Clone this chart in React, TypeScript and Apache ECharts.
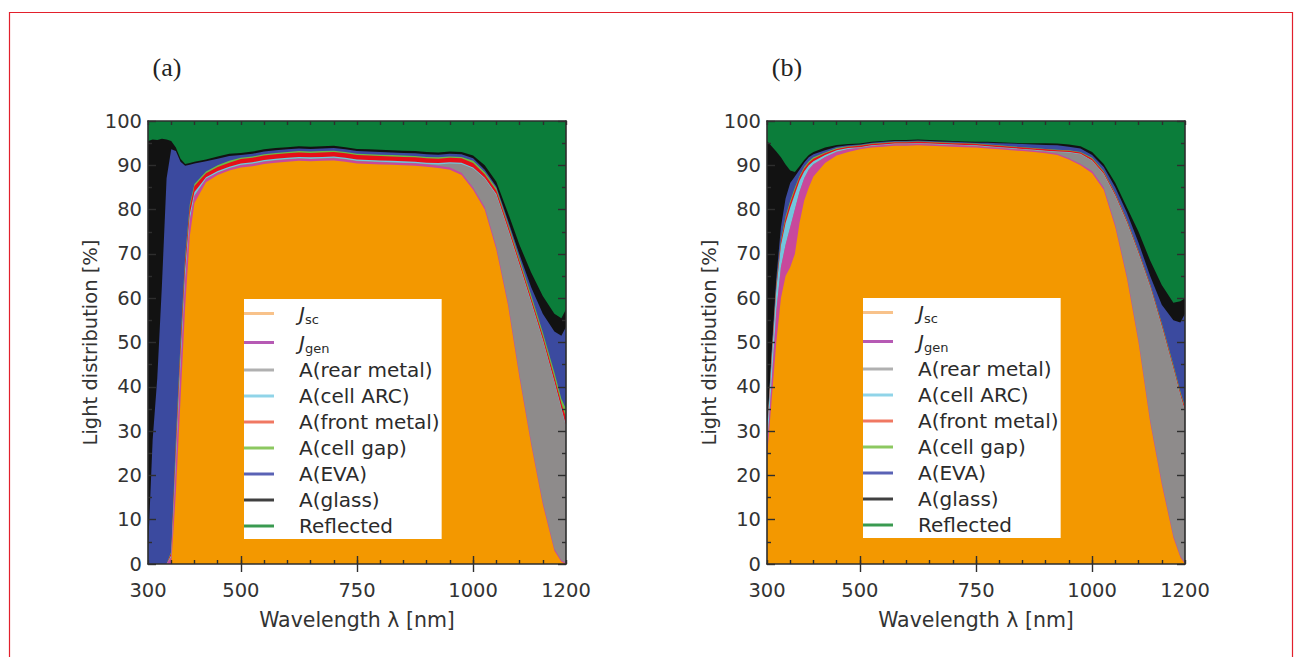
import React, { useEffect, useRef } from 'react';
import * as echarts from 'echarts';

// Wavelength grid [nm]
const wavelength = [300, 310, 320, 330, 340, 350, 360, 370, 380, 390, 400, 425, 450, 475, 500, 525, 550, 575, 600, 625, 650, 675, 700, 725, 750, 775, 800, 825, 850, 875, 900, 925, 950, 975, 1000, 1025, 1050, 1075, 1100, 1125, 1150, 1175, 1190, 1200];

// Panel (a): cumulative upper boundary of each band [%]
const aJscTop = [0, 0, 0, 0, 0, 0, 16, 37, 58, 74, 81.5, 86.2, 87.8, 88.8, 89.5, 89.8, 90.3, 90.6, 90.8, 91, 90.9, 91, 91.1, 90.8, 90.4, 90.3, 90.2, 90.1, 90, 89.9, 89.7, 89.4, 89, 87.8, 84.5, 80, 71, 58.5, 42, 27, 13.5, 3, 0.5, 0];
const aJgenTop = [0, 0, 0, 0, 0, 1.5, 22, 44, 64, 77.5, 83, 86.9, 88.3, 89.3, 90, 90.3, 90.8, 91.1, 91.3, 91.5, 91.4, 91.5, 91.6, 91.3, 90.9, 90.8, 90.7, 90.6, 90.5, 90.4, 90.2, 89.9, 89.5, 88.3, 85, 80.6, 71.6, 59.1, 42.6, 27.5, 14, 3.4, 0.8, 0.2];
const aRearTop = [0, 0, 0, 0, 0, 1.6, 22.3, 44.3, 64.3, 77.8, 83.2, 87, 88.4, 89.4, 90.1, 90.4, 90.9, 91.2, 91.4, 91.6, 91.5, 91.6, 91.7, 91.4, 91, 90.9, 90.8, 90.7, 90.6, 90.5, 90.3, 90.2, 90.4, 90.3, 89.3, 87, 83.3, 75.5, 67.3, 59, 50.5, 41, 35, 31];
const aArcTop = [0, 0, 0, 0, 0, 2, 25, 47, 66.5, 79, 84, 87.3, 88.7, 89.7, 90.4, 90.7, 91.2, 91.5, 91.7, 91.9, 91.8, 91.9, 92, 91.7, 91.3, 91.2, 91.1, 91, 90.9, 90.8, 90.6, 90.5, 90.7, 90.6, 89.5, 87.2, 83.5, 75.7, 67.5, 59.2, 50.7, 41.2, 35.2, 31.2];
const aFrontTop = [0, 0, 0, 0, 0, 2.5, 27, 49, 68.5, 80.5, 85.3, 88.2, 89.6, 90.6, 91.4, 91.7, 92.2, 92.5, 92.7, 92.9, 92.8, 92.9, 93, 92.7, 92.3, 92.2, 92.1, 92, 91.9, 91.8, 91.6, 91.5, 91.7, 91.6, 90.5, 88, 84.3, 76.5, 68.3, 60, 51.5, 42.2, 36.3, 33];
const aGapTop = [0, 0, 0, 0, 0, 2.8, 28, 50, 69.5, 81.2, 85.8, 88.6, 90, 91, 91.7, 92, 92.5, 92.8, 93, 93.2, 93.1, 93.2, 93.3, 93, 92.6, 92.5, 92.4, 92.3, 92.2, 92.1, 91.9, 91.8, 92, 91.9, 91, 88.5, 84.8, 77, 68.9, 60.7, 52.3, 43.2, 37.3, 35];
const aEvaTop = [3, 28, 42, 63, 87, 93.6, 93.2, 90.8, 89.9, 90.1, 90.4, 90.9, 91.5, 92.1, 92.3, 92.6, 93.1, 93.4, 93.6, 93.8, 93.7, 93.8, 93.9, 93.6, 93.2, 93.1, 93, 92.9, 92.8, 92.7, 92.5, 92.4, 92.6, 92.5, 91.6, 89, 85.2, 77.6, 69.8, 62.5, 56.5, 52.5, 51.5, 53.5];
const aGlassTop = [95.5, 95.8, 95.7, 96, 95.8, 95.5, 94, 91.5, 90.3, 90.5, 90.8, 91.3, 92, 92.6, 92.8, 93.1, 93.6, 93.9, 94.1, 94.3, 94.2, 94.3, 94.4, 94.1, 93.7, 93.6, 93.5, 93.4, 93.3, 93.2, 93, 92.9, 93.1, 93, 92.2, 90, 86.3, 79.3, 72, 65.8, 60.5, 56.5, 55.5, 57.5];
const aReflectedTop = [100, 100, 100, 100, 100, 100, 100, 100, 100, 100, 100, 100, 100, 100, 100, 100, 100, 100, 100, 100, 100, 100, 100, 100, 100, 100, 100, 100, 100, 100, 100, 100, 100, 100, 100, 100, 100, 100, 100, 100, 100, 100, 100, 100];

// Panel (b): cumulative upper boundary of each band [%]
const bJscTop = [24, 37, 50, 60, 65, 67, 70, 77, 82, 85, 87.5, 90.5, 92.2, 93, 93.6, 94, 94.2, 94.4, 94.4, 94.5, 94.4, 94.3, 94.2, 94.1, 94, 93.8, 93.6, 93.4, 93.2, 93, 92.7, 92.3, 91.3, 90, 88.2, 84.5, 76, 64.5, 50, 32, 18, 6, 1.5, 0];
const bJgenTop = [26, 41, 57, 67, 72, 76, 80, 84, 87, 89, 90.2, 91.8, 93, 93.6, 93.9, 94.3, 94.5, 94.7, 94.7, 94.8, 94.7, 94.6, 94.5, 94.4, 94.3, 94.1, 93.9, 93.7, 93.5, 93.3, 93, 92.6, 91.6, 90.3, 88.7, 85, 76.5, 65, 50.5, 32.5, 18.5, 6.4, 1.8, 0.2];
const bRearTop = [26.1, 41.1, 57.1, 67.1, 72.1, 76.1, 80.1, 84.1, 87.1, 89.1, 90.3, 91.9, 93.1, 93.7, 94, 94.4, 94.6, 94.8, 94.8, 94.9, 94.8, 94.7, 94.6, 94.5, 94.4, 94.2, 94, 93.8, 93.6, 93.4, 93.2, 93, 92.9, 92.5, 91, 88, 83, 77, 70, 62.5, 53.5, 44, 38, 34.5];
const bArcTop = [29, 46, 62, 72, 77, 80.5, 83.5, 86.5, 88.6, 90, 90.9, 92.3, 93.4, 93.9, 94.1, 94.5, 94.7, 94.9, 94.9, 95, 94.9, 94.8, 94.7, 94.6, 94.5, 94.3, 94.1, 93.9, 93.7, 93.5, 93.3, 93.1, 93, 92.6, 91.1, 88.1, 83.1, 77.1, 70.1, 62.6, 53.6, 44.1, 38.1, 34.6];
const bFrontTop = [29.5, 46.8, 62.8, 72.8, 78, 81.5, 84.5, 87.3, 89.3, 90.6, 91.5, 92.7, 93.7, 94.2, 94.4, 94.8, 95, 95.2, 95.2, 95.3, 95.2, 95.1, 95, 94.9, 94.8, 94.6, 94.4, 94.2, 94, 93.8, 93.6, 93.4, 93.3, 92.9, 91.5, 88.5, 83.5, 77.5, 70.5, 63, 54.1, 44.6, 38.6, 35.2];
const bGapTop = [29.8, 47.2, 63.2, 73.2, 78.5, 82, 85, 87.6, 89.6, 90.9, 91.8, 92.9, 93.9, 94.3, 94.5, 94.9, 95.1, 95.3, 95.3, 95.4, 95.3, 95.2, 95.1, 95, 94.9, 94.7, 94.5, 94.3, 94.1, 93.9, 93.7, 93.5, 93.4, 93, 91.7, 88.7, 83.7, 77.7, 70.7, 63.2, 54.4, 45, 39, 35.5];
const bEvaTop = [30, 48, 64.5, 76, 82.5, 86, 87.5, 89, 90.6, 91.8, 92.5, 93.4, 94.2, 94.5, 94.7, 95.1, 95.3, 95.5, 95.5, 95.6, 95.5, 95.4, 95.3, 95.2, 95.1, 95.1, 95, 94.9, 94.8, 94.7, 94.6, 94.5, 94.2, 93.8, 92.3, 89.6, 85, 79.3, 72.5, 65, 58.5, 55, 54.5, 56.5];
const bGlassTop = [95.5, 94.3, 93.1, 91.8, 90.2, 88.8, 88.5, 89.8, 91.2, 92.3, 93, 94, 94.6, 94.8, 94.9, 95.3, 95.5, 95.7, 95.7, 95.8, 95.7, 95.6, 95.5, 95.4, 95.3, 95.3, 95.2, 95.1, 95, 95, 95, 94.9, 94.7, 94.3, 93, 90.3, 86, 80.5, 75, 68.5, 63, 59, 59.3, 60];
const bReflectedTop = [100, 100, 100, 100, 100, 100, 100, 100, 100, 100, 100, 100, 100, 100, 100, 100, 100, 100, 100, 100, 100, 100, 100, 100, 100, 100, 100, 100, 100, 100, 100, 100, 100, 100, 100, 100, 100, 100, 100, 100, 100, 100, 100, 100];

// Labels / ticks
const seriesNames = ['Jsc', 'Jgen', 'A(rear metal)', 'A(cell ARC)', 'A(front metal)', 'A(cell gap)', 'A(EVA)', 'A(glass)', 'Reflected'];
const areaColors = ['#f39800', '#c8489c', '#8e8b8b', '#72c6dd', '#e60f19', '#6dbb44', '#3b4a9f', '#121212', '#0b7d3a'];
const legendColors = ['#f8c28a', '#b65ab4', '#b0b0b0', '#90d4e8', '#f07862', '#8cc860', '#5a62b5', '#404040', '#3a9a50'];
const xTickLabels = [300, 500, 750, 1000, 1200];
const xMajorTicks = [500, 750, 1000];
const panelLabels = ['(a)', '(b)'];
const xAxisTitle = 'Wavelength \u03bb [nm]';
const yAxisTitle = 'Light distribution [%]';

const FONT = 'DejaVu Sans';
const TXT = '#333333';
const AXC = '#2e2e2e';

function axesFor(gi: number) {
  const common = { gridIndex: gi, type: 'value' as const, min: 300, max: 1200, splitLine: { show: false }, z: 10 };
  const tickStyle = { color: AXC, width: 1.4 };
  const xs = [
    {
      ...common, position: 'bottom', interval: 50,
      axisLine: { show: true, onZero: false, lineStyle: { color: AXC, width: 1.6 } },
      axisTick: { show: true, inside: true, length: 4, lineStyle: tickStyle },
      axisLabel: {
        show: true, margin: 16, fontFamily: FONT, fontSize: 19.5, color: TXT,
        formatter: (v: number) => (xTickLabels.indexOf(v) >= 0 ? String(v) : ''),
      },
      name: xAxisTitle, nameLocation: 'middle', nameGap: 45,
      nameTextStyle: { fontFamily: FONT, fontSize: 20.5, color: TXT },
    },
    {
      ...common, position: 'bottom',
      axisLine: { show: false },
      axisTick: { show: true, inside: true, length: 8, customValues: xMajorTicks, lineStyle: tickStyle },
      axisLabel: { show: false },
    },
    {
      ...common, position: 'top', interval: 50,
      axisLine: { show: true, onZero: false, lineStyle: { color: AXC, width: 1.6 } },
      axisTick: { show: true, inside: true, length: 4, lineStyle: tickStyle },
      axisLabel: { show: false },
    },
    {
      ...common, position: 'top',
      axisLine: { show: false },
      axisTick: { show: true, inside: true, length: 8, customValues: xMajorTicks, lineStyle: tickStyle },
      axisLabel: { show: false },
    },
  ];
  const ycommon = { gridIndex: gi, type: 'value' as const, min: 0, max: 100, interval: 10, splitLine: { show: false }, z: 10 };
  const ys = [
    {
      ...ycommon, position: 'left',
      axisLine: { show: true, onZero: false, lineStyle: { color: AXC, width: 1.6 } },
      axisTick: { show: true, inside: true, length: 8, lineStyle: tickStyle },
      minorTick: { show: true, splitNumber: 2, length: 4, lineStyle: tickStyle },
      axisLabel: { show: true, margin: 6, fontFamily: FONT, fontSize: 19.5, color: TXT },
      name: yAxisTitle, nameLocation: 'middle', nameGap: 44,
      nameTextStyle: { fontFamily: FONT, fontSize: 19.5, color: TXT },
    },
    {
      ...ycommon, position: 'right',
      axisLine: { show: true, onZero: false, lineStyle: { color: AXC, width: 1.6 } },
      axisTick: { show: true, inside: true, length: 8, lineStyle: tickStyle },
      minorTick: { show: true, splitNumber: 2, length: 4, lineStyle: tickStyle },
      axisLabel: { show: false },
    },
  ];
  return { xs, ys };
}

function seriesFor(gi: number, tops: number[][]) {
  // draw from the top band (Reflected) down to Jsc so lower bands paint over
  const out: any[] = [];
  for (let k = seriesNames.length - 1; k >= 0; k--) {
    out.push({
      name: seriesNames[k],
      type: 'line',
      xAxisIndex: gi * 4,
      yAxisIndex: gi * 2,
      data: wavelength.map((w, i) => [w, tops[k][i]]),
      showSymbol: false,
      symbol: 'none',
      silent: true,
      z: 2,
      lineStyle: { width: 0, opacity: 0 },
      areaStyle: { color: areaColors[k], opacity: 1, origin: 'start' },
      itemStyle: { color: areaColors[k] },
      emphasis: { disabled: true },
    });
  }
  return out;
}

function legendFor(left: number, top: number) {
  return {
    left, top, orient: 'vertical', backgroundColor: '#ffffff', padding: [2, 2, 2, 0], z: 20,
    itemGap: 4, itemWidth: 30, itemHeight: 3, icon: 'rect', selectedMode: false,
    data: seriesNames.map((n, i) => ({ name: n, itemStyle: { color: legendColors[i] } })),
    formatter: (name: string) => (name === 'Jsc' ? '{j|J}{s|sc}' : name === 'Jgen' ? '{j|J}{s|gen}' : name),
    textStyle: {
      fontFamily: FONT, fontSize: 20, color: '#2b2b2b', lineHeight: 22, padding: [0, 0, 0, 20],
      rich: {
        j: { fontFamily: FONT, fontStyle: 'italic', fontSize: 20, lineHeight: 22, color: '#2b2b2b' },
        s: { fontFamily: FONT, fontSize: 13, lineHeight: 10, padding: [12, 0, 0, 0], color: '#2b2b2b' },
      },
    },
  };
}

export default function App() {
  const ref = useRef<HTMLDivElement>(null);
  useEffect(() => {
    if (!ref.current) return;
    const chart = echarts.init(ref.current, undefined, { renderer: 'svg' });
    const a = axesFor(0);
    const b = axesFor(1);
    const option: any = {
      animation: false,
      backgroundColor: '#ffffff',
      grid: [
        { left: 148, top: 121, width: 418, height: 443, containLabel: false },
        { left: 767, top: 121, width: 418, height: 443, containLabel: false },
      ],
      xAxis: [...a.xs, ...b.xs],
      yAxis: [...a.ys, ...b.ys],
      legend: [legendFor(244, 299), legendFor(863, 298)],
      series: [
        ...seriesFor(0, [aJscTop, aJgenTop, aRearTop, aArcTop, aFrontTop, aGapTop, aEvaTop, aGlassTop, aReflectedTop]),
        ...seriesFor(1, [bJscTop, bJgenTop, bRearTop, bArcTop, bFrontTop, bGapTop, bEvaTop, bGlassTop, bReflectedTop]),
      ],
      graphic: [
        {
          type: 'rect', silent: true, z: 100,
          shape: { x: 9.5, y: 12.5, width: 1283, height: 660 },
          style: { fill: 'none', stroke: '#e2202c', lineWidth: 1.2 },
        },
        {
          type: 'text', x: 167, y: 67, silent: true,
          style: { text: panelLabels[0], fontFamily: 'Liberation Serif', fontSize: 26, fill: '#222', align: 'center', verticalAlign: 'middle' },
        },
        {
          type: 'text', x: 787, y: 67, silent: true,
          style: { text: panelLabels[1], fontFamily: 'Liberation Serif', fontSize: 26, fill: '#222', align: 'center', verticalAlign: 'middle' },
        },
      ],
    };
    chart.setOption(option);
    return () => chart.dispose();
  }, []);
  return <div ref={ref} style={{ position: 'fixed', left: 0, top: 0, width: 1297, height: 657 }} />;
}
